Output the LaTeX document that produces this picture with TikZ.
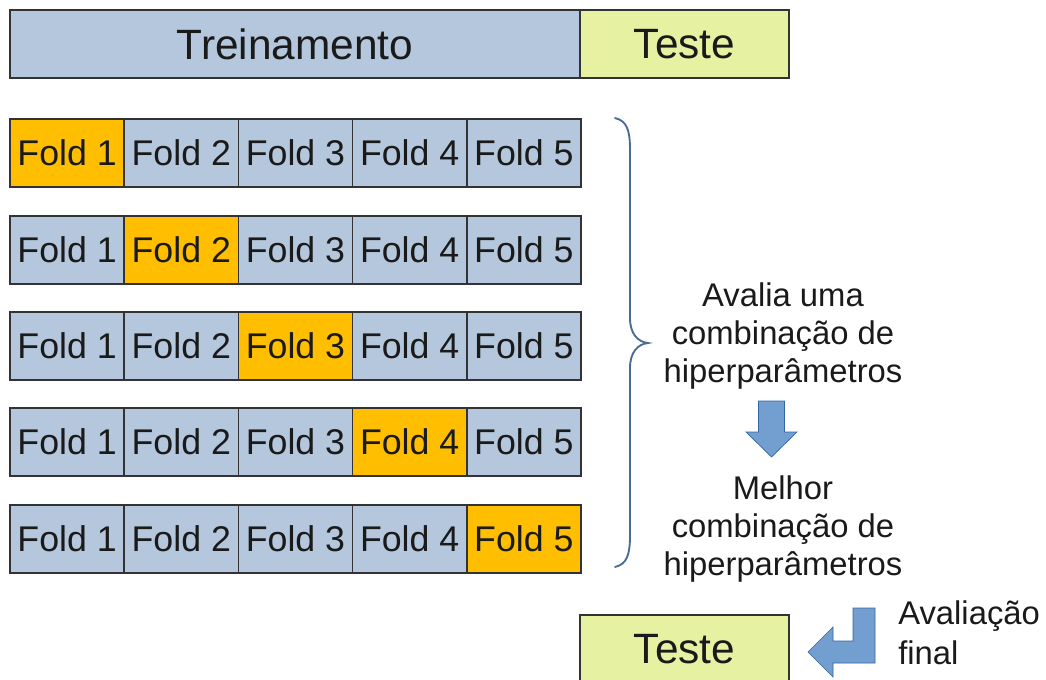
\documentclass[tikz,border=0pt]{standalone}
\usepackage{fontspec}
\setmainfont{Liberation Sans}
\definecolor{trainblue}{HTML}{B4C7DC}
\definecolor{foldgold}{HTML}{FFBF00}
\definecolor{testgreen}{HTML}{E6F2A2}
\definecolor{edgegray}{HTML}{333333}
\definecolor{arrowfill}{HTML}{729FCF}
\definecolor{arrowedge}{HTML}{3465A4}
\definecolor{bracecol}{HTML}{4A6C94}
\definecolor{txt}{HTML}{1A1A1A}
\tikzset{
  box/.style={draw=edgegray, line width=1.2pt, inner sep=0pt, outer sep=0pt,
    minimum height=51pt, text=txt},
  cell/.style={box, fill=trainblue, minimum width=85.65pt,
    font=\fontsize{26.8}{30}\selectfont},
  held/.style={fill=foldgold},
  bigtext/.style={font=\fontsize{31.8}{36}\selectfont},
  note/.style={text=txt, align=center, inner sep=0pt,
    font=\fontsize{24.6}{28.5}\selectfont},
  blockarrow/.style={fill=arrowfill, draw=arrowedge, line width=0.5pt, line join=miter}
}
\begin{document}
\begin{tikzpicture}[x=0.75pt, y=-0.75pt]
\useasboundingbox (0,0) rectangle (1046,679);
\begin{scope}
\clip (0,0) rectangle (1046,679);

% top split of the data set
\node[box, bigtext, fill=trainblue, minimum width=427.5pt] (train) at (295,44) {Treinamento};
\node[box, bigtext, fill=testgreen, minimum width=156.75pt] (test) at (684.5,44) {Teste};

% five rounds of cross-validation, the held-out fold in gold
\foreach \r/\y in {1/153,2/250,3/346,4/442,5/539}{
  \foreach \c/\x in {1/67.1,2/181.3,3/295.5,4/409.7,5/523.9}{
    \ifnum\r=\c
      \node[cell, held] (f\r\c) at (\x,\y) {Fold \c};
    \else
      \node[cell] (f\r\c) at (\x,\y) {Fold \c};
    \fi
  }
}

% brace gathering the rounds
\draw[bracecol, line width=1.4pt, line cap=round]
  (615,118) .. controls (627,121) and (630,130) .. (630,150)
  -- (630,318) .. controls (630,334) and (638,342) .. (648,343)
  .. controls (638,344) and (630,352) .. (630,368)
  -- (630,535) .. controls (630,555) and (627,564) .. (615,567);

\node[note] (eval) at (783,336) {Avalia uma\\combinação de\\hiperparâmetros};
\node[note] (best) at (783,529) {Melhor\\combinação de\\hiperparâmetros};

% down block arrow between the two notes
\draw[blockarrow] (758.5,401) -- (784.5,401) -- (784.5,432) -- (797,432)
  -- (771.5,457) -- (746,432) -- (758.5,432) -- cycle;

% final evaluation on the test set
\node[box, bigtext, fill=testgreen, minimum width=156.75pt] (final) at (684.5,649) {Teste};
\draw[blockarrow] (853,608) -- (875,608) -- (875,663) -- (833,663) -- (833,677)
  -- (808,652) -- (833,627) -- (833,641) -- (853,641) -- cycle;
\node[note, align=left, anchor=west, font=\fontsize{24.6}{30}\selectfont] (finalnote) at (898,633) {Avaliação\\final};
\end{scope}
\end{tikzpicture}
\end{document}
